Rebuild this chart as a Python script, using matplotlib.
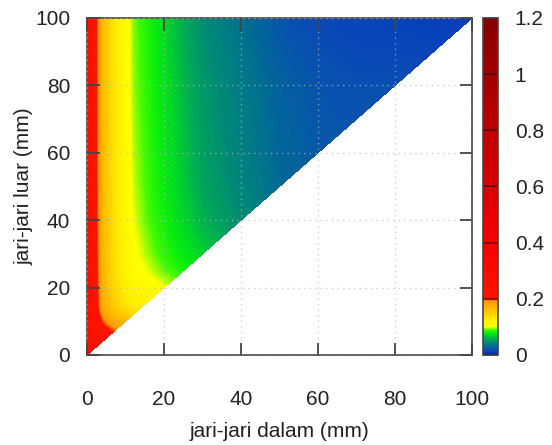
import numpy as np
import matplotlib
matplotlib.use('Agg')
import matplotlib.pyplot as plt
import matplotlib.tri as mtri
from matplotlib.colors import LinearSegmentedColormap, Normalize
from matplotlib.cm import ScalarMappable
from matplotlib.ticker import FormatStrFormatter

plt.rcParams['font.family'] = ['Liberation Sans', 'DejaVu Sans']

# jari-jari dalam (sumbu x), mm
r_dalam = [0, 1, 2, 4, 6, 8, 10, 12, 15, 20, 25, 30, 40, 50, 60, 70, 80, 100]
# jari-jari luar (sumbu y), mm
r_luar = [0, 2, 4, 6, 8, 10, 12, 15, 20, 25, 30, 40, 50, 60, 80, 100]
# nilai tiap baris r_luar, untuk r_dalam <= r_luar
nilai = [
    [0.30],
    [0.30, 0.278, 0.305],
    [0.30, 0.253, 0.243, 0.239],
    [0.30, 0.247, 0.228, 0.212, 0.205],
    [0.30, 0.245, 0.224, 0.205, 0.196, 0.188],
    [0.30, 0.243, 0.219, 0.197, 0.184, 0.174, 0.166],
    [0.30, 0.243, 0.217, 0.186, 0.168, 0.155, 0.146, 0.138],
    [0.30, 0.242, 0.215, 0.177, 0.158, 0.143, 0.133, 0.124, 0.121],
    [0.30, 0.241, 0.213, 0.172, 0.150, 0.134, 0.122, 0.112, 0.107, 0.100],
    [0.30, 0.241, 0.212, 0.170, 0.147, 0.130, 0.117, 0.106, 0.100, 0.091, 0.083],
    [0.30, 0.241, 0.212, 0.169, 0.146, 0.127, 0.114, 0.102, 0.096, 0.086, 0.077, 0.068],
    [0.30, 0.240, 0.211, 0.167, 0.144, 0.125, 0.111, 0.099, 0.092, 0.081, 0.070, 0.060, 0.046],
    [0.30, 0.240, 0.210, 0.167, 0.143, 0.123, 0.109, 0.097, 0.090, 0.078, 0.067, 0.056, 0.042, 0.030],
    [0.30, 0.240, 0.210, 0.166, 0.142, 0.123, 0.108, 0.096, 0.089, 0.076, 0.065, 0.054, 0.040, 0.028, 0.023],
    [0.30, 0.240, 0.210, 0.165, 0.141, 0.122, 0.107, 0.094, 0.087, 0.074, 0.062, 0.051, 0.037, 0.026, 0.021, 0.019, 0.019],
    [0.30, 0.240, 0.210, 0.165, 0.140, 0.120, 0.105, 0.093, 0.085, 0.071, 0.058, 0.046, 0.032, 0.021, 0.016, 0.014, 0.013, 0.011],
]

xs, ys, zs = [], [], []
for y, row in zip(r_luar, nilai):
    for x, v in zip(r_dalam, row):
        xs.append(x)
        ys.append(y)
        zs.append(v)
tri = mtri.Triangulation(xs, ys)

# palet mirip gnuplot
vmax = 1.2
anchors = [
    (0.000, (0.00, 0.05, 0.45)),
    (0.008, (0.03, 0.22, 0.74)),
    (0.016, (0.04, 0.28, 0.72)),
    (0.024, (0.02, 0.36, 0.64)),
    (0.032, (0.00, 0.44, 0.56)),
    (0.045, (0.00, 0.54, 0.46)),
    (0.058, (0.00, 0.67, 0.33)),
    (0.070, (0.00, 0.84, 0.16)),
    (0.080, (0.04, 0.94, 0.04)),
    (0.089, (0.25, 0.98, 0.00)),
    (0.100, (1.00, 1.00, 0.00)),
    (0.125, (1.00, 0.93, 0.00)),
    (0.160, (1.00, 0.75, 0.00)),
    (0.192, (1.00, 0.60, 0.00)),
    (0.200, (1.00, 0.08, 0.00)),
    (0.400, (0.97, 0.00, 0.00)),
    (1.200, (0.52, 0.00, 0.00)),
]
cmap = LinearSegmentedColormap.from_list('gp', [(v / vmax, c) for v, c in anchors], N=2048)
norm = Normalize(0, vmax)
levels = np.concatenate([np.linspace(0, 0.2, 201), np.linspace(0.2, 1.2, 101)[1:]])

fig = plt.figure(figsize=(5.52, 4.45), dpi=100)
ax = fig.add_axes([87 / 552, 90 / 445, 385 / 552, 337 / 445])
cax = fig.add_axes([483 / 552, 90 / 445, 15 / 552, 337 / 445])

ax.tricontourf(tri, zs, levels=levels, cmap=cmap, norm=norm, antialiased=False, zorder=1)

ax.set_xlim(0, 100)
ax.set_ylim(0, 100)
ax.set_xticks(range(0, 101, 20))
ax.set_yticks(range(0, 101, 20))
ax.grid(True, color='#b8b8b8', linestyle=(0, (1, 3)), linewidth=1, alpha=0.7)
ax.set_axisbelow(False)
ax.tick_params(direction='in', length=9, width=1.3, color='#444444', top=True, right=True,
               labelsize=15, labelcolor='#222222')
ax.tick_params(axis='x', pad=25)
ax.tick_params(axis='y', pad=12)
for s in ax.spines.values():
    s.set_color('#555555')
    s.set_linewidth(1.3)

ax.set_xlabel('jari-jari dalam (mm)', fontsize=15, color='#222222')
ax.xaxis.set_label_coords(0.5, -0.2)
ax.set_ylabel('jari-jari luar (mm)', fontsize=15, color='#222222')
ax.yaxis.set_label_coords(-0.14, 0.5)

cb = fig.colorbar(ScalarMappable(norm=norm, cmap=cmap), cax=cax, ticks=[0, 0.2, 0.4, 0.6, 0.8, 1.0, 1.2])
cb.ax.yaxis.set_major_formatter(FormatStrFormatter('%g'))
cb.ax.tick_params(direction='in', length=11, width=1.2, color=(0, 0, 0, 0.55),
                  labelsize=15, labelcolor='#222222', pad=12)
cb.outline.set_edgecolor('#444444')
cb.outline.set_linewidth(1.2)

fig.savefig('out.png', dpi=100)
